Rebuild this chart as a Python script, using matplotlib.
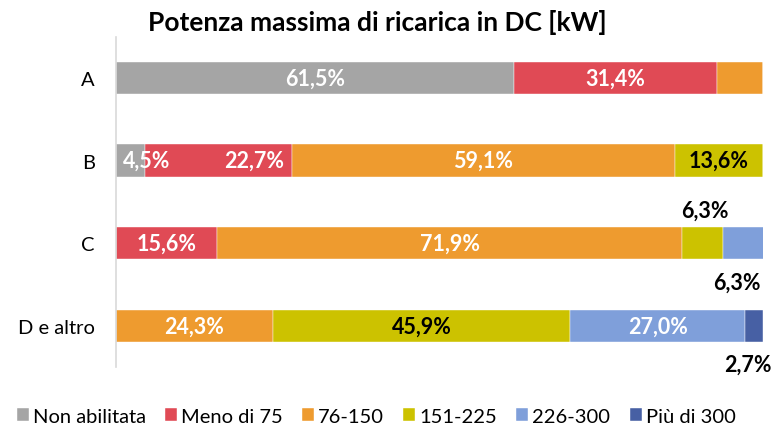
import numpy as np
import matplotlib
matplotlib.use("Agg")
from matplotlib import pyplot as plt

plt.rcParams['font.family'] = ['Lato', 'DejaVu Sans']

categories = ["A", "B", "C", "D e altro"]
series = ["Non abilitata", "Meno di 75", "76-150", "151-225", "226-300", "Più di 300"]
colors = ["#A5A5A5", "#E04A55", "#EE9B2F", "#CCC200", "#7F9FDA", "#4760A4"]

# percentage per category, one list per series
non_abilitata = [61.5, 4.5, 0.0, 0.0]
meno_75 = [31.4, 22.7, 15.6, 0.0]
r76_150 = [7.1, 59.1, 71.9, 24.3]
r151_225 = [0.0, 13.6, 6.3, 45.9]
r226_300 = [0.0, 0.0, 6.3, 27.0]
piu_300 = [0.0, 0.0, 0.0, 2.7]
values = [non_abilitata, meno_75, r76_150, r151_225, r226_300, piu_300]

# which labels are shown: (series index, category index) -> (text colour, placement)
labels = {
    (0, 0): ("white", "in"), (1, 0): ("white", "in"),
    (0, 1): ("white", "left"), (1, 1): ("white", "right"), (2, 1): ("white", "in"), (3, 1): ("black", "in"),
    (1, 2): ("white", "in"), (2, 2): ("white", "in"), (3, 2): ("black", "above"), (4, 2): ("black", "below"),
    (2, 3): ("white", "in"), (3, 3): ("black", "in"), (4, 3): ("white", "in"), (5, 3): ("black", "below"),
}
lab_fs = 15.5

fig = plt.figure(figsize=(7.71, 4.27), dpi=100)
ax = fig.add_axes([0.150, 0.138, 0.840, 0.774])

y = np.arange(len(categories))
left = np.zeros(len(categories))
bar_h = 0.39
for i, (name, vals) in enumerate(zip(series, values)):
    vals = np.array(vals)
    ax.barh(y, vals, left=left, height=bar_h, color=colors[i], label=name,
            edgecolor="white", linewidth=0.3)
    for j, v in enumerate(vals):
        if (i, j) not in labels:
            continue
        tc, place = labels[(i, j)]
        txt = f"{v:.1f}%".replace(".", ",")
        cx = left[j] + v / 2
        kw = dict(va="center", color=tc, fontsize=lab_fs, fontweight="bold")
        if place == "in":
            ax.text(cx, y[j], txt, ha="center", **kw)
        elif place == "left":
            ax.text(left[j] + 1.2, y[j], txt, ha="left", **kw)
        elif place == "right":
            ax.text(left[j] + v - 1.2, y[j], txt, ha="right", **kw)
        elif place == "above":
            ax.text(cx + 0.4, y[j] - 0.40, txt, ha="center", **kw)
        elif place == "below":
            ax.text(cx - 1.0, y[j] + 0.47, txt, ha="center", **kw)
    left += vals

ax.set_xlim(0, 100)
ax.set_ylim(len(categories) - 0.5, -0.5)
ax.set_yticks(y)
ax.set_yticklabels(categories, fontsize=14.5)
ax.tick_params(axis="y", length=0, pad=15)
ax.set_xticks([])
for s in ["top", "right", "bottom"]:
    ax.spines[s].set_visible(False)
ax.spines["left"].set_color("#D9D9D9")
ax.spines["left"].set_linewidth(1.2)

fig.text(0.49, 0.948, "Potenza massima di ricarica in DC [kW]", ha="center", va="center",
         fontsize=19, fontweight="bold")

fig.legend(loc="lower center", bbox_to_anchor=(0.488, -0.04), ncol=6, frameon=False,
           fontsize=14.5, handlelength=0.6, handleheight=0.6, handletextpad=0.2,
           columnspacing=0.95)

fig.savefig("out.png", dpi=100)
